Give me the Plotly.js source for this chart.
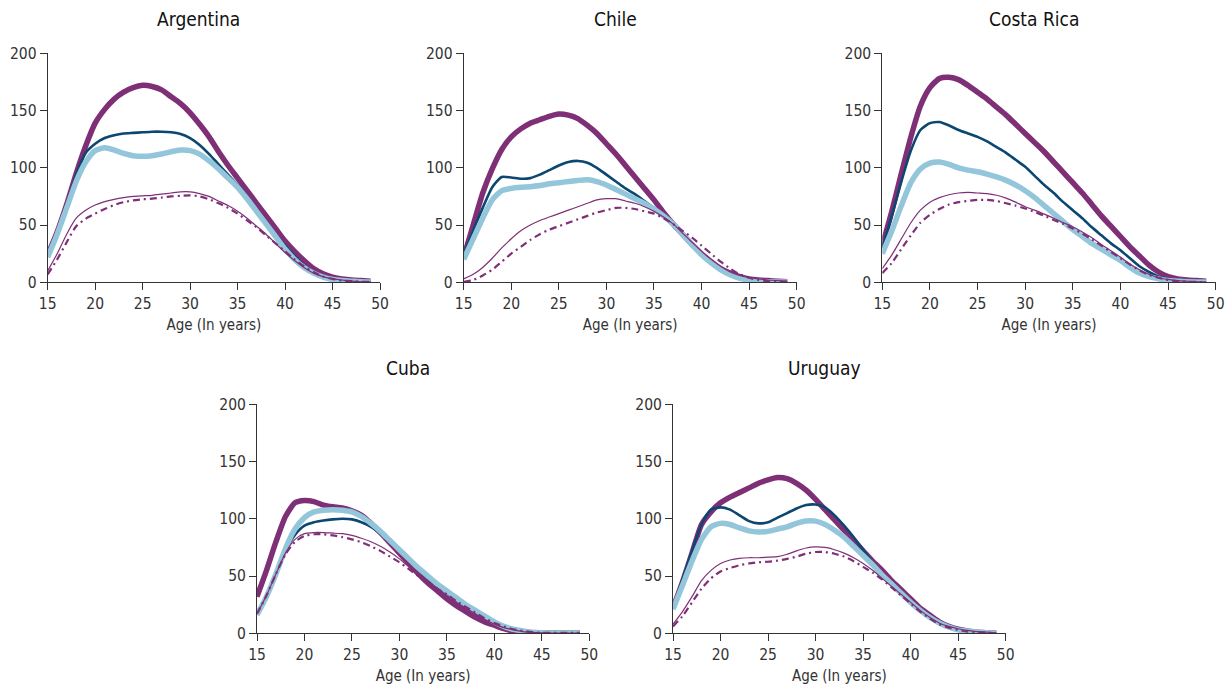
<!DOCTYPE html>
<html>
<head>
<meta charset="utf-8">
<script src="https://cdn.plot.ly/plotly-3.0.1.min.js"></script>
<style>
html,body{margin:0;padding:0;background:#fff;}
#chart{width:1229px;height:689px;}
</style>
</head>
<body>
<div id="chart"></div>
<script>
// Ages (x axis)
const ages = [15,16,17,18,19,20,21,22,23,24,25,26,27,28,29,30,31,32,33,34,35,36,37,38,39,40,41,42,43,44,45,46,47,48,49];

const countries = ["Argentina","Chile","Costa Rica","Cuba","Uruguay"];
const xTicks = [15,20,25,30,35,40,45,50];
const yTicks = [0,50,100,150,200];
const xTitle = "Age (In years)";

// Series 1: thick purple
const argentina1 = [24,44,68,95,119,139,151,160,166,170,172,171,168,162,156,148,138,127,114,102,91,80,69,58,47,36,27,19,12,7.5,4.5,3,2,1.5,1];
const chile1     = [22,50,78,99,116,127,134,139,142,145,147,146,143,137,130,121,112,102,92,82,72,61,51,42,33,25,18,12,8,5,3,2,1.5,1,0.5];
const costaRica1 = [32,62,95,127,154,170,178,179,177,172,166,160,153,146,138,130,122,114,105,96,87,78,68,58,49,40,31,23,15,9,5,3,2,1.5,1];
const cuba1      = [32,55,80,102,114,116,115,112,110.5,109.5,107,103,96,88,79,70,61,52,44,37,30,24,19,14,10,7,4,2,1,0.5,0.3,0.2,0.2,0.2,0.2];
const uruguay1   = [22,45,70,95,106,114,119,123,127,131,134,136,135,131,125,117,108,99,90,81,72,63,55,46,38,30,22,16,10,6,3.5,2,1,0.5,0.3];

// Series 2: dark navy
const argentina2 = [24,44,68,94,113,121,126,128.5,130,130.5,131,131.5,131.5,131,129.5,126,120,112,103,94,85,75,64,53,42,32,23,15,9,5,3,2,1,0.5,0.3];
const chile2     = [24,45,65,83,92,91.5,90.5,91,94,98,102,105,106,104.5,100,94,88,82,77,71,65,59,51,42,33,25,18,12,7,4,2,1,0.5,0.3,0.2];
const costaRica2 = [30,58,88,115,133,139,140,137,133,130,127,123,118,113,107,101,93,85,78,70,63,56,48,41,34,28,21,14,9,5,3,1.5,1,0.5,0.3];
const cuba2      = [18,33,52,72,86,94,97,98.5,99.5,100,99.5,97,93,87,80,72,64,56,48,41,35,29,23,18,13,9,5,3,1.5,0.8,0.4,0.2,0.2,0.2,0.2];
const uruguay2   = [22,47,72,95,108,110,108,103,98,96,97,101,105,109,112,112.5,110,103,94,84,73,62,52,43,35,27,20,14,9,5,3,1.5,1,0.5,0.3];

// Series 3: thick light blue
const argentina3 = [22,42,65,88,105,115,117.5,115.5,112.5,110.5,110,110.5,112,114,115.5,115,112,106,99,91,83,73,62,51,40,29,20,13,8,4.5,2.5,1.5,1,0.5,0.3];
const chile3     = [20,38,56,72,80,82,83,83.5,84.5,86,87,88,89,89.5,88,85,81,77,73,69,64,58,51,42,33,24,17,11,6.5,3.5,2,1,0.5,0.3,0.2];
const costaRica3 = [25,45,67,87,99,104,105,103,100,98,96.5,94.5,92,89,85,80,74,67,60,53,46,40,34,29,24,19,13,8,5,3,1.5,1,0.5,0.3,0.2];
const cuba3      = [16,32,52,74,91,101,106,107.5,108,107.5,106,102,96,89,81,73,65,57,50,43,37,31,25,20,15,10,6,3.5,2,1,0.5,0.3,0.3,0.3,0.3];
const uruguay3   = [21,42,63,82,93,96,95,92,89.5,88.5,89,91,93,96,98,98,95,90,84,76,68,60,51,43,35,27,20,14,9,5.5,3,2,1,0.5,0.3];

// Series 4: thin purple
const argentina4 = [10,25,42,56,63,67.5,70.5,72.5,74,75,75.5,76,77,78,79,79,77.5,75,71,67,62,56,49,42,34,26,19,13,8,5,3,2,1,0.5,0.3];
const chile4     = [3,7,13,21,30,38,45,50,54,57,60,63,66,69,72,73,73,71,69,66,62,57,51,43,35,27,20,14,9,6,4,3,2,1.5,1];
const costaRica4 = [12,24,38,52,63,70,74,76.5,78,78.5,78,77.5,76,73.5,70,66,63,59.5,56,52,48.5,44,39,33,27.5,22,16,11,7,4,2.5,1.5,1,0.5,0.3];
const cuba4      = [17,33,52,70,82,87,88,88,87.5,87,85.5,83,80,76,71,65,58,51,45,39,33,27,22,17,12,8,5,3,1.5,0.8,0.4,0.2,0.2,0.2,0.2];
const uruguay4   = [8,19,32,46,55,61,64,65.5,66,66,66.5,67,69,72,74.5,75.5,75,73,70,66,61,55,48,41,34,27,20,14,9,6,4,2.5,1.5,1,0.5];

// Series 5: purple dash-dot
const argentina5 = [7,20,35,49,55.5,60,64,67.5,70,71.5,72.5,73,74,75,75.5,76,75,72.5,69,65,60,54,48,41,34,27,20,14,9,5,3,1.5,1,0.5,0.3];
const chile5     = [0.5,2,6,11,18,25,31,37,42,46,49,52,55,58,61,63,65,65,64,62,60,56,51,45,39,32,25,18,12,7,4,2,1,0.5,0.3];
const costaRica5 = [8,17,29,41,52,59,64,68,70,71,72,72,71,69,67,64.5,61.5,58,54.5,51,47,42.5,37.5,32,26.5,21,15.5,10.5,6.5,4,2,1,0.5,0.3,0.2];
const cuba5      = [17,33,52,69,80,85,86.5,86.5,85.5,84,82,79.5,76,72,67,62,56,50,45,39,34,28,23,18,13,9,6,3.5,2,1,0.5,0.3,0.3,0.3,0.3];
const uruguay5   = [6,15,27,39,48,54,57,59.5,61,62,62.5,63.5,65,67,69.5,71,71,69.5,67,63,58,53,47,40,33,26,19,13,8,5,3,1.5,1,0.5,0.3];

const seriesByCountry = [
  [argentina1, argentina2, argentina3, argentina4, argentina5],
  [chile1, chile2, chile3, chile4, chile5],
  [costaRica1, costaRica2, costaRica3, costaRica4, costaRica5],
  [cuba1, cuba2, cuba3, cuba4, cuba5],
  [uruguay1, uruguay2, uruguay3, uruguay4, uruguay5]
];

const PURPLE = "#7f2f76", NAVY = "#0b4770", LBLUE = "#93c6da";
const styles = [
  {color: PURPLE, width: 5.5, dash: "solid"},
  {color: NAVY, width: 2.6, dash: "solid"},
  {color: LBLUE, width: 5.5, dash: "solid"},
  {color: PURPLE, width: 1.2, dash: "solid"},
  {color: PURPLE, width: 2.2, dash: "7px,4px,2px,4px"}
];

const W = 1229, H = 689;
// plot rectangles in pixels [x0, x1, yTop, yBottom]
const boxes = [
  [47.7, 380, 53.3, 282.3],
  [463.7, 796.7, 53.3, 282.3],
  [882.3, 1215.7, 53.3, 282.3],
  [257, 589.3, 404.3, 633.3],
  [673, 1005.7, 404.3, 633.3]
];
const titleY = [19, 19, 19, 368.5, 368.5];

const FONT = "'Liberation Sans Narrow', 'DejaVu Sans Condensed', 'Arial Narrow', sans-serif";

const data = [];
const layout = {
  width: W, height: H,
  margin: {l: 0, r: 0, t: 0, b: 0},
  paper_bgcolor: "#ffffff",
  plot_bgcolor: "rgba(0,0,0,0)",
  showlegend: false,
  font: {family: FONT, color: "#333333", size: 15.5},
  annotations: []
};

countries.forEach((name, i) => {
  const n = i === 0 ? "" : String(i + 1);
  const b = boxes[i];
  seriesByCountry[i].forEach((vals, k) => {
    const s = styles[k];
    data.push({
      type: "scatter", mode: "lines",
      x: ages, y: vals,
      xaxis: "x" + n, yaxis: "y" + n,
      line: {color: s.color, width: s.width, dash: s.dash, shape: "spline", smoothing: 0.6},
      hoverinfo: "skip"
    });
  });
  const axCommon = {
    showgrid: false, zeroline: false, showline: true,
    linecolor: "#333333", linewidth: 1,
    ticks: "outside", ticklen: 7, tickwidth: 1, tickcolor: "#333333",
    tickfont: {family: FONT, size: 15.5, color: "#333333"},
    fixedrange: true
  };
  layout["xaxis" + n] = Object.assign({}, axCommon, {
    domain: [b[0] / W, b[1] / W],
    range: [15, 50],
    tickmode: "array", tickvals: xTicks, ticktext: xTicks.map(String),
    anchor: "y" + n,
    title: {text: xTitle, font: {family: FONT, size: 15, color: "#333333"}, standoff: 7}
  });
  layout["yaxis" + n] = Object.assign({}, axCommon, {
    domain: [1 - b[3] / H, 1 - b[2] / H],
    range: [0, 200],
    tickmode: "array", tickvals: yTicks, ticktext: yTicks.map(String),
    anchor: "x" + n
  });
  layout.annotations.push({
    text: name, showarrow: false,
    xref: "paper", yref: "paper",
    x: ((b[0] + b[1]) / 2 - 15) / W, y: 1 - titleY[i] / H,
    xanchor: "center", yanchor: "middle",
    font: {family: FONT, size: 19, color: "#111111"}
  });
});

Plotly.newPlot("chart", data, layout, {displayModeBar: false, staticPlot: true});
</script>
</body>
</html>
